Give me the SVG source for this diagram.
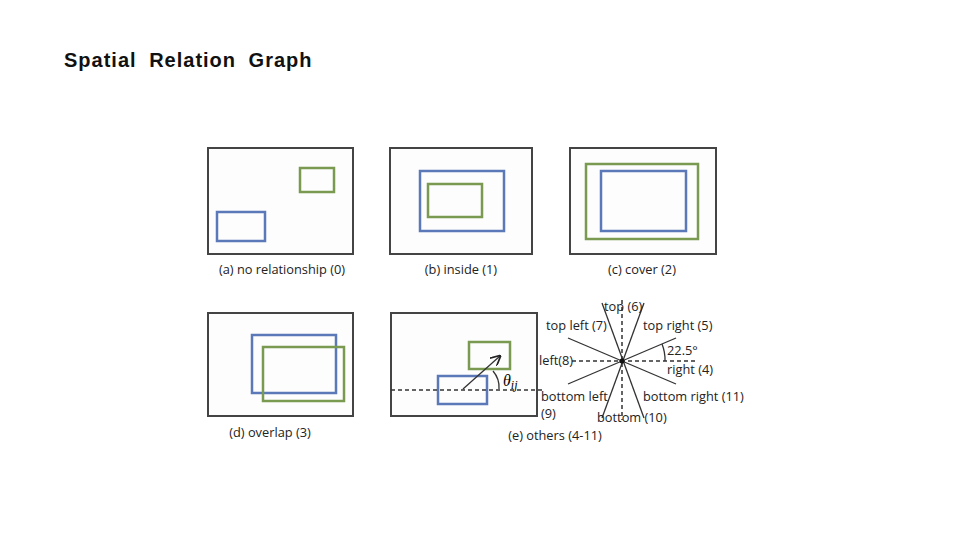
<svg xmlns="http://www.w3.org/2000/svg" width="960" height="540" viewBox="0 0 960 540">
<style>
.f{fill:#fdfdfd;stroke:#444;stroke-width:2}
.b{fill:none;stroke:#5b78b8;stroke-width:2.5}
.g{fill:none;stroke:#7a9a52;stroke-width:2.5}
.t{font-family:"Open Sans","Liberation Sans",sans-serif;font-size:12.8px;fill:#222}
.d{stroke:#333;stroke-width:1.5;stroke-dasharray:4 3;fill:none}
.l{stroke:#333;stroke-width:1.3}
</style>
<defs><marker id="ah" markerWidth="8" markerHeight="8" refX="7" refY="4" orient="auto"><path d="M0,0 L8,4 L0,8" fill="none" stroke="#222" stroke-width="1.3"/></marker></defs>
<rect width="960" height="540" fill="#fff"/>
<text x="64" y="67" style="font-family:'Liberation Sans',Arial,sans-serif;font-size:20px;font-weight:bold;letter-spacing:1px;word-spacing:6px" fill="#111">Spatial Relation Graph</text>
<g id="a"><rect class="f" x="208" y="148" width="145" height="106"/><rect class="b" x="217" y="212" width="48" height="29"/><rect class="g" x="300" y="168" width="34" height="24"/><text class="t" x="282" y="274" text-anchor="middle">(a) no relationship (0)</text></g>
<g id="b"><rect class="f" x="390" y="148" width="142" height="106"/><rect class="b" x="420" y="171" width="84" height="60"/><rect class="g" x="428" y="184" width="54" height="33"/><text class="t" x="461" y="274" text-anchor="middle">(b) inside (1)</text></g>
<g id="c"><rect class="f" x="570" y="148" width="146" height="106"/><rect class="g" x="586" y="164" width="112" height="75"/><rect class="b" x="601" y="171" width="85" height="60"/><text class="t" x="642" y="274" text-anchor="middle">(c) cover (2)</text></g>
<g id="d"><rect class="f" x="208" y="313" width="145" height="103"/><rect class="b" x="252" y="335" width="84" height="58"/><rect class="g" x="263" y="347" width="81" height="54"/><text class="t" x="270" y="437" text-anchor="middle">(d) overlap (3)</text></g>
<g id="e"><rect class="f" x="391" y="313" width="146" height="103"/><rect class="g" x="469" y="342" width="41" height="27"/><rect class="b" x="438" y="376" width="49" height="28"/><line class="d" x1="391" y1="390" x2="545" y2="390"/>
<line class="l" x1="463" y1="389" x2="500" y2="356" marker-end="url(#ah)"/><path d="M493,371 A25,25 0 0 1 499,389" class="l" fill="none"/>
<text x="503" y="386" style="font-family:'Liberation Serif',serif;font-style:italic;font-size:16px">θ<tspan font-size="12" dy="3">ij</tspan></text>
<text class="t" x="555" y="440" text-anchor="middle">(e) others (4-11)</text></g>
<g id="star">
<line class="d" x1="572" y1="361" x2="697" y2="361"/><line class="d" x1="622" y1="300" x2="622" y2="420"/>
<line class="l" x1="568" y1="338" x2="676" y2="384"/><line class="l" x1="568" y1="384" x2="676" y2="338"/>
<line class="l" x1="602" y1="303" x2="644" y2="418"/><line class="l" x1="644" y1="303" x2="602" y2="418"/>
<circle cx="622" cy="361" r="2.5" fill="#111"/>
<path d="M662,344 A42,42 0 0 1 665,361" class="l" fill="none"/>
<text class="t" x="604" y="311">top (6)</text><text class="t" x="546" y="330">top left (7)</text><text class="t" x="643" y="330">top right (5)</text>
<text class="t" x="667" y="355">22.5°</text><text class="t" x="539" y="365">left(8)</text><text class="t" x="667" y="374">right (4)</text>
<text class="t" x="541" y="401">bottom left</text><text class="t" x="541" y="418">(9)</text><text class="t" x="643" y="401">bottom right (11)</text><text class="t" x="597" y="422">bottom (10)</text>
</g>
</svg>
